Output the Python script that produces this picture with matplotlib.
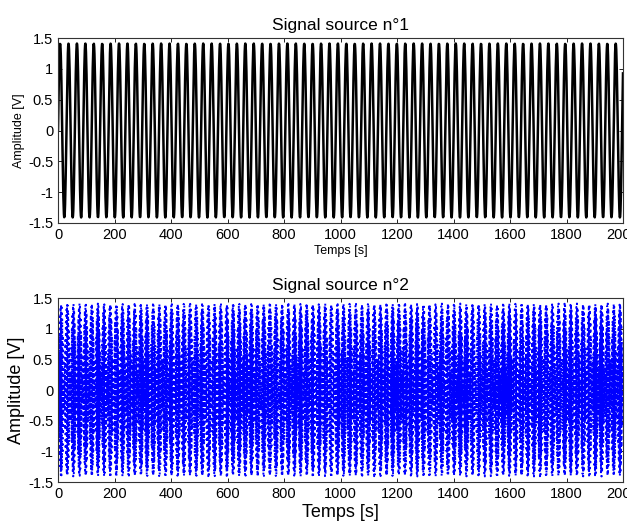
import numpy as np
import matplotlib.pyplot as plt

plt.rcParams['font.family'] = ['Liberation Sans', 'DejaVu Sans']

# signal parameters
duration = 2000          # s
step = 1.0               # sampling step [s]
amp1 = 1.41              # peak amplitude of source 1 [V]
period1 = 29.8           # period of source 1 [s]
amp2 = 1.41              # peak amplitude of source 2 [V]
freq2 = 0.477            # frequency of source 2 [Hz]

xticks = [0, 200, 400, 600, 800, 1000, 1200, 1400, 1600, 1800, 2000]
yticks = [-1.5, -1, -0.5, 0, 0.5, 1, 1.5]
yticklabels = ['-1.5', '-1', '-0.5', '0', '0.5', '1', '1.5']

t = np.arange(0, duration + step, step)
s1 = amp1 * np.sin(2 * np.pi * t / period1)
s2 = amp2 * np.sin(2 * np.pi * freq2 * t)

fig = plt.figure(figsize=(6.27, 5.21), dpi=100)
W, H = 627, 521

ax1 = fig.add_axes([58 / W, 1 - 223 / H, 565 / W, 185 / H])
ax2 = fig.add_axes([58 / W, 1 - 482 / H, 565 / W, 184 / H])

ax1.plot(t, s1, color='black', linewidth=1.8)
ax2.plot(t, s2, color='blue', linestyle=(0, (1, 2.2)), linewidth=1.4)

for ax in (ax1, ax2):
    ax.set_xlim(0, duration)
    ax.set_ylim(-1.5, 1.5)
    ax.set_xticks(xticks)
    ax.set_xticklabels([str(v) for v in xticks])
    ax.set_yticks(yticks)
    ax.set_yticklabels(yticklabels)
    ax.tick_params(direction='in', length=3, labelsize=10.5, top=True, right=True, width=0.6)
    for sp in ax.spines.values():
        sp.set_linewidth(0.8)
        sp.set_color('#333333')

ax1.set_title('Signal source n°1', fontsize=12.5, pad=6)
ax1.set_xlabel('Temps [s]', fontsize=9, labelpad=2)
ax1.set_ylabel('Amplitude [V]', fontsize=9, labelpad=2)

ax2.set_title('Signal source n°2', fontsize=12.5, pad=6)
ax2.set_xlabel('Temps [s]', fontsize=13, labelpad=2)
ax2.set_ylabel('Amplitude [V]', fontsize=13, labelpad=2)

fig.savefig('out.png', dpi=100)
